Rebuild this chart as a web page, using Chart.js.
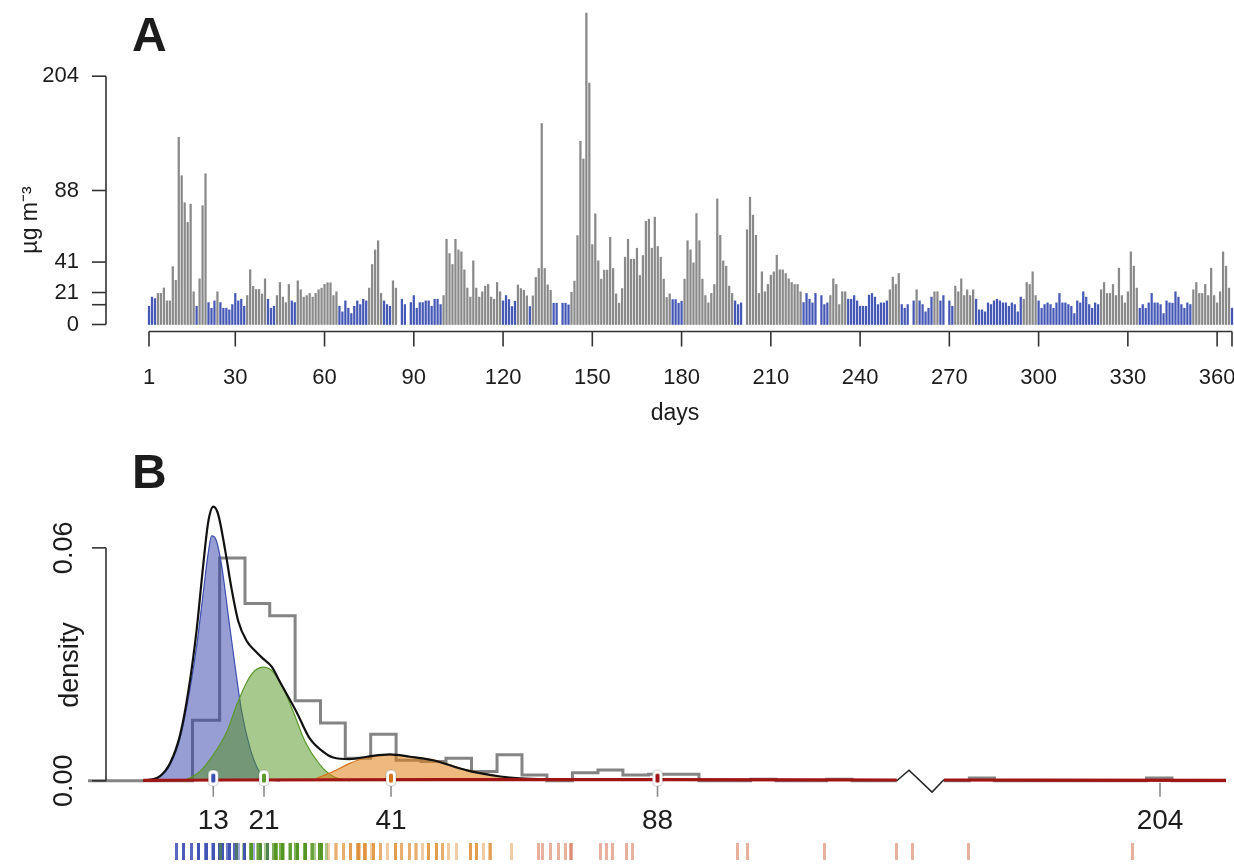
<!DOCTYPE html>
<html>
<head>
<meta charset="utf-8">
<title>Daily PM10 and mixture density</title>
<script src="https://cdn.jsdelivr.net/npm/chart.js@4.4.1/dist/chart.umd.min.js"></script>
<style>
  html, body { margin: 0; background: #fff; }
  #wrap { position: relative; width: 1234px; height: 864px; overflow: hidden; }
  canvas { position: absolute; left: 0; }
  #panelA { top: 0; }
  #panelB { top: 440px; }
</style>
</head>
<body>
<div id="wrap">
  <canvas id="panelA" width="1234" height="440"></canvas>
  <canvas id="panelB" width="1234" height="424"></canvas>
</div>
<script>
// ---- daily concentrations (µg m-3), day 1..365, null = no measurement
const pm = [
  12, 18, 17, 20.4, 20.4, 24, 15.5, 15.5, 38, 29,
  142, 103, 80, 67, 79, 21.5, 12, 30, 78, 105,
  14.4, 10.7, 15.5, 21.5, 14.4, 10.7, 10.7, 9.6, 13.1, 20.4,
  15.5, 16.6, 12, 19, 36, 25, 23, 23, 20, 30,
  16.6, 10.7, 12, 19, 27.6, 18, 14.4, 26.3, 15.5, 14.4,
  28.7, 22.8, 18, 19, 20.4, 18, 20.4, 22.8, 23.9, 26.3,
  27.4, 27.4, 19, 21.5, 12, 8.3, 15.5, 10.7, 7.2, 12,
  15.5, 13.1, 16.6, 15.5, 23.9, 39.4, 49, 55, 20.4, 15.5,
  13.1, 12, 28.7, 23.9, null, 16.6, 13.1, null, 14.4, 19,
  10.7, 14.4, 14.4, 15.5, 15.5, 12, 16.6, 16.6, 13.1, 19,
  56, 46.6, 39.4, 56, 49, 47.7, 35.9, 23.9, 18, 41.8,
  23.9, 18, 21.5, 25.2, 26.3, 18, 16.6, 27.6, 21.5, 15.5,
  19, 16.4, 11.8, 15.3, 26, 23.6, 22.5, 18.8, 11.8, 18.8,
  30.9, 36.8, 156, 36.8, 26, 22.5, 14, 14, null, 14,
  14, 12.9, 21.2, 28.5, 58.4, 138, 120, 320, 197, 52.5,
  72.7, 41.8, 29.8, 35.7, 35.7, 57.3, 36.8, 20.1, 14, 23.6,
  44.2, 56, 42.9, 42.9, 50.1, 32.2, 45.3, 67.8, 69.2, 50.1,
  70.5, 51.2, 44.2, 29.8, 17.7, 20.1, 16.4, 16.4, 14, 15.3,
  29.8, 55, 49, 40.5, 72.9, 55, 29.8, 19, 14.2, 20.4,
  26.3, 82.5, 58.6, 41.8, 38.3, 25.2, 20.4, 15.5, 13.1, 14.2,
  null, 62.2, 83.6, 71.8, 58.6, 20.4, 34.6, 21.5, 26.3, 32.4,
  34.6, 45.5, 35.9, 35.9, 33.5, 30, 27.6, 26.3, 26.3, 21.5,
  14.4, 20.4, 16.6, 14.2, 20.4, null, 19, 13.1, 14.2, 19,
  30, 26.3, 13.1, 21.5, 21.5, 16.6, 16.6, 19, 15.5, 12,
  12, 12, 19.3, 20.4, 18, 13.1, 14.2, 14.2, 15.5, 22.8,
  31.1, 26.3, 33.5, 13.1, 10.7, 13.1, null, 15.5, 22.8, 15.5,
  13.1, 8.3, 10.7, 18, 21.5, 21.5, 15.5, 19, null, 15.5,
  12, 25.2, 21.5, 30, 19, 22.8, 19, 22.8, 16.6, 9.6,
  9.6, 8.3, 14.2, 13.1, 15.5, 16.6, 15.5, 14.2, 14.2, 12,
  14.2, 13.1, 8.3, 18, 16.6, 27.6, 26.3, 34.6, 19, 15.5,
  10.7, 13.1, 14.2, 13.1, 10.7, 14.2, 20.4, 14.2, 14.2, 13.1,
  12, 7.2, 15.5, 14.2, 21.5, 18, 13.1, 10.7, 14.2, 13.1,
  22.8, 27.6, 20.4, 20.4, 26.3, 19, 37, 19, 14.2, 21.5,
  47.7, 38.3, 23.9, 10.7, 13.1, 10.7, 14.2, 20.4, 14.2, 14.2,
  13.1, 7.2, 15.5, 14.2, 14, 21.5, 18, 13.1, 10.7, 14.2,
  13.1, 22.8, 27.6, 20.4, 20.4, 26.3, 19, 37, 19, 14.2,
  21.5, 47.7, 38.3, 23.9, 10.7
];

// day assigned to the low (blue) component: 1 = yes, 0 = no, - = missing
const lowDays = (
  '1110000000 0000001000 1110111111 1110000000 1110000011 0000000000 ' +
  '0000111111 1111000001 1100-11-11 1111111110 0000000000 0000000001 ' +
  '1111000010 00000011-1 1100000000 0000000000 0000000000 0000001111 ' +
  '0000000000 0000000111 -000000000 0000000000 11111-1110 0000011111 ' +
  '1111111110 000111-101 11110011-1 1000000011 1111111111 1111000001 ' +
  '1111111111 1111111111 0000000000 0001111111 1111111111 1000000000 00001'
).replace(/ /g, '').split('');

const days = pm.map((_, i) => i + 1);

// axis ticks of panel A
const aTicksY = [0, 13, 21, 41, 88, 204];
const aTickLabelsY = ['0', '', '21', '41', '88', '204'];
const aTicksX = [1, 30, 60, 90, 120, 150, 180, 210, 240, 270, 300, 330, 360, 365];
const aTickLabelsX = ['1', '30', '60', '90', '120', '150', '180', '210', '240', '270', '300', '330', '360', ''];

// ---- panel B: histogram of the daily values (density per bin)
const histEdges = [9.7, 14.0, 18.0, 21.9, 25.9, 29.9, 33.8, 37.8, 41.9, 46.3, 50.7, 55.2, 59.7,
  64.1, 68.5, 73.0, 77.5, 81.9, 86.4, 91.1, 95.8, 105.5, 110.3, 120.4, 126.8, 138.0,
  149.8, 156.2, 162.5, 200.6, 206.9, 220];
const histDensity = [0.0156, 0.0574, 0.0457, 0.0425, 0.0206, 0.0149, 0.0058, 0.0120, 0.0053,
  0.0050, 0.0058, 0.0024, 0.0067, 0.0015, 0, 0.0021, 0.0028, 0.0015, 0.0017, 0.0017, 0,
  0.0004, 0, 0.0004, 0, null, 0, 0.0007, 0, 0.0007, 0];

// mixture components [value, density]
const blueCurve = [[1.9, 0], [4.55, 0.0011], [6.14, 0.0041], [7.72, 0.0109], [9.04, 0.0212],
  [10.37, 0.0348], [11.41, 0.0485], [12.2, 0.0587], [12.74, 0.0631], [13.43, 0.0621],
  [14.33, 0.0553], [15.37, 0.0425], [16.42, 0.0297], [17.48, 0.0178], [18.79, 0.0084],
  [20.1, 0.0028], [21.42, 0.0005], [23.5, 0]];
const greenCurve = [[8.77, 0.0003], [10.88, 0.0024], [13, 0.0067], [15.11, 0.0126],
  [16.69, 0.0195], [18.27, 0.0254], [19.58, 0.0284], [20.89, 0.0293], [22.21, 0.0284],
  [23.79, 0.0246], [25.61, 0.0178], [27.46, 0.0101], [29.82, 0.0041], [31.92, 0.0011],
  [34.54, 0]];
const orangeCurve = [[29.3, 0.0007], [31.9, 0.0024], [34.5, 0.0045], [37.2, 0.0060],
  [40.8, 0.0067], [44.35, 0.0062], [48.4, 0.0054], [54.4, 0.0028], [60.3, 0.0011],
  [63.7, 0.0005], [70.8, 0]];
const redCurve = [[1.9, 0.0001], [15, 0.0002], [50, 0.0003], [88, 0.0003], [138, 0.0002],
  [149.8, 0.0002], [220, 0.0001]];
const totalCurve = [[1.9, 0], [4.55, 0.0012], [6.14, 0.0045], [7.72, 0.0117], [9.04, 0.023],
  [10.37, 0.039], [11.41, 0.0557], [12.2, 0.0667], [13, 0.0706], [13.79, 0.0685],
  [14.85, 0.0596], [15.9, 0.0493], [16.94, 0.0411], [18.27, 0.036], [19.58, 0.0335],
  [20.89, 0.0314], [22.21, 0.0294], [23.5, 0.0255], [26.1, 0.0178], [28.2, 0.0109],
  [30.3, 0.0075], [31.9, 0.006], [34.5, 0.0056], [37.2, 0.0062], [40.8, 0.0068],
  [44.35, 0.0062], [48.4, 0.0053], [54.4, 0.0027], [60.3, 0.0011], [63.7, 0.0006],
  [70.8, 0.0003]];

const componentMeans = [13, 21, 41, 88];
const bTicksX = [13, 21, 41, 88, 204];
const bTicksY = [0, 0.06];
const bTickLabelsY = ['0.00', '0.06'];

// ---- look
const FONT = "'Liberation Sans', Arial, Helvetica, sans-serif";
const INK = '#1c1c1c';
const BAR_BLUE = 'rgb(70, 88, 182)';
const BAR_GRAY = 'rgb(138, 138, 138)';
const COMP_LINE = ['rgb(60, 78, 175)', 'rgb(92, 152, 44)', 'rgb(214, 116, 28)', 'rgb(160, 20, 20)'];
const COMP_FILL = ['rgba(48, 62, 168, 0.5)', 'rgba(82, 148, 28, 0.5)', 'rgba(222, 128, 22, 0.55)'];
const RUG = ['rgba(66, 84, 182, 0.5)', 'rgba(86, 150, 36, 0.5)', 'rgba(222, 140, 50, 0.45)', 'rgba(212, 112, 80, 0.55)'];

// piecewise-linear value axis: knots are [value, relative position]
const aKnots = [[0, 0], [88, 134], [204, 248.3], [320, 311.5]];
const bKnots = [[-6.86, 0], [13, 125.3], [21, 176], [41, 303], [88, 569.5], [118, 729],
  [204, 1072], [220, 1138]];
const breakLo = 138, breakHi = 149.8;

class KnotScale extends Chart.LinearScale {
  static id = 'knots';
  static defaults = { ticks: { callback: (v) => String(v) } };
  knotPos(v) {
    const k = this.options.knots;
    let i = 1;
    while (i < k.length - 1 && v > k[i][0]) i++;
    const [v0, p0] = k[i - 1], [v1, p1] = k[i];
    const p = p0 + (v - v0) * (p1 - p0) / (v1 - v0);
    return (p - k[0][1]) / (k[k.length - 1][1] - k[0][1]);
  }
  getPixelForValue(v) {
    return v === null || v === undefined ? NaN : this.getPixelForDecimal(this.knotPos(v));
  }
  getValueForPixel(px) {
    const k = this.options.knots;
    const t = this.getDecimalForPixel(px);
    const p = k[0][1] + t * (k[k.length - 1][1] - k[0][1]);
    let i = 1;
    while (i < k.length - 1 && p > k[i][1]) i++;
    const [v0, p0] = k[i - 1], [v1, p1] = k[i];
    return v0 + (p - p0) * (v1 - v0) / (p1 - p0);
  }
}
Chart.register(KnotScale);

function seg(ctx, x1, y1, x2, y2) {
  ctx.beginPath(); ctx.moveTo(x1, y1); ctx.lineTo(x2, y2); ctx.stroke();
}
function vText(ctx, text, x, y, size) {
  ctx.save();
  ctx.translate(x, y); ctx.rotate(-Math.PI / 2);
  ctx.font = size + 'px ' + FONT;
  ctx.textAlign = 'center'; ctx.textBaseline = 'middle';
  ctx.fillText(text, 0, 0);
  ctx.restore();
}

// R-style detached axes for the daily series
const axesA = {
  id: 'axesA',
  afterDraw(chart) {
    const { ctx, scales: { x, y } } = chart;
    ctx.save();
    ctx.strokeStyle = '#333'; ctx.lineWidth = 1.6; ctx.fillStyle = INK;
    const axisX = 106;
    seg(ctx, axisX, y.getPixelForValue(0), axisX, y.getPixelForValue(204));
    ctx.font = '22px ' + FONT; ctx.textAlign = 'right'; ctx.textBaseline = 'middle';
    aTicksY.forEach((v, i) => {
      const py = y.getPixelForValue(v);
      seg(ctx, axisX - 14, py, axisX, py);
      ctx.fillText(aTickLabelsY[i], axisX - 27, py);
    });
    const axisY = y.getPixelForValue(0) + 7;
    seg(ctx, x.getPixelForValue(1), axisY, x.getPixelForValue(365), axisY);
    ctx.textAlign = 'center';
    aTicksX.forEach((v, i) => {
      const px = x.getPixelForValue(v);
      seg(ctx, px, axisY, px, axisY + 15);
      ctx.fillText(aTickLabelsX[i], px, axisY + 46);
    });
    ctx.font = '23px ' + FONT;
    ctx.fillText('days', 675, 414);
    vText(ctx, 'µg m⁻³', 31, 220, 23);
    ctx.font = 'bold 48px ' + FONT; ctx.textAlign = 'left'; ctx.textBaseline = 'alphabetic';
    ctx.fillText('A', 132, 51);
    ctx.restore();
  }
};

// axes, break mark and labels for the density panel
const axesB = {
  id: 'axesB',
  beforeDatasetsDraw(chart) {
    const { ctx, scales: { x, y } } = chart;
    const y0 = y.getPixelForValue(0);
    ctx.save();
    ctx.strokeStyle = '#8a8a8a'; ctx.lineWidth = 1.6;
    bTicksX.forEach(v => {
      const px = x.getPixelForValue(v);
      seg(ctx, px, y0 + 2, px, y0 + 16);
    });
    ctx.restore();
  },
  afterDraw(chart) {
    const { ctx, scales: { x, y } } = chart;
    const y0 = y.getPixelForValue(0);
    ctx.save();
    ctx.strokeStyle = '#333'; ctx.lineWidth = 1.6; ctx.fillStyle = INK;
    const axisX = 106;
    seg(ctx, axisX, y0, axisX, y.getPixelForValue(0.06));
    bTicksY.forEach((v, i) => {
      const py = y.getPixelForValue(v);
      seg(ctx, axisX - 14, py, axisX, py);
      vText(ctx, bTickLabelsY[i], 65, py, 27);
    });
    vText(ctx, 'density', 71, 225, 27);
    ctx.font = '28px ' + FONT; ctx.textAlign = 'center'; ctx.textBaseline = 'middle';
    bTicksX.forEach(v => ctx.fillText(String(v), x.getPixelForValue(v), y0 + 40));
    // axis break
    const x1 = x.getPixelForValue(breakLo), x2 = x.getPixelForValue(breakHi), w = x2 - x1;
    ctx.strokeStyle = '#222'; ctx.lineWidth = 1.5;
    ctx.beginPath();
    ctx.moveTo(x1, y0);
    ctx.lineTo(x1 + 0.26 * w, y0 - 10.5);
    ctx.lineTo(x1 + 0.75 * w, y0 + 11.3);
    ctx.lineTo(x2, y0 - 1);
    ctx.stroke();
    ctx.font = 'bold 48px ' + FONT; ctx.textAlign = 'left'; ctx.textBaseline = 'alphabetic';
    ctx.fillText('B', 132, 48);
    ctx.restore();
  }
};

// ---- panel A: daily bars
new Chart(document.getElementById('panelA'), {
  type: 'bar',
  data: {
    datasets: [{
      data: days.map((d, i) => ({ x: d, y: pm[i] })),
      backgroundColor: days.map((d, i) => lowDays[i] === '1' ? BAR_BLUE : BAR_GRAY),
      barThickness: 1.6,
      clip: false
    }]
  },
  options: {
    responsive: false,
    animation: false,
    layout: { padding: { left: 149, right: 2, top: 13, bottom: 115.5 } },
    plugins: { legend: { display: false }, tooltip: { enabled: false } },
    scales: {
      x: { type: 'linear', min: 1, max: 365, offset: false, display: false },
      y: { type: 'knots', knots: aKnots, min: 0, max: 320, display: false }
    }
  },
  plugins: [axesA]
});

// ---- panel B: histogram, mixture components and rug
const histPoints = [{ x: bKnots[0][0], y: 0 }];
histDensity.forEach((h, i) => {
  if (h === null) {
    histPoints.push({ x: histEdges[i], y: histDensity[i - 1] }, { x: histEdges[i], y: null });
  } else {
    histPoints.push({ x: histEdges[i], y: h });
  }
});
histPoints.push({ x: histEdges[histEdges.length - 1], y: 0 });

function curvePoints(curve) {
  const out = [];
  curve.forEach(([x, y], i) => {
    if (i > 0 && curve[i - 1][0] <= breakLo && x >= breakHi) out.push({ x: (breakLo + breakHi) / 2, y: null });
    out.push({ x, y });
  });
  return out;
}

// small white pill with a coloured core, used for the component means
function pill(color) {
  const c = document.createElement('canvas');
  c.width = 12; c.height = 18;
  const g = c.getContext('2d');
  g.fillStyle = '#fff'; g.strokeStyle = 'rgba(0,0,0,0.18)'; g.lineWidth = 1;
  g.beginPath(); g.roundRect(1, 1, 10, 16, 4); g.fill(); g.stroke();
  g.fillStyle = color;
  g.beginPath(); g.roundRect(4, 4.5, 4, 9, 1.5); g.fill();
  return c;
}
// one rug tick per observation
function rugTick(color) {
  const c = document.createElement('canvas');
  c.width = 3; c.height = 24;
  const g = c.getContext('2d');
  g.fillStyle = color; g.fillRect(0, 0, 3, 24);
  return c;
}
const rugTicks = RUG.map(rugTick);
const rugGroup = (v, i) => lowDays[i] === '1' ? 0 : v < 31 ? 1 : v < 63 ? 2 : 3;
const rugIdx = pm.map((v, i) => i).filter(i => pm[i] !== null);
const rugLevel = -0.0192, markerLevel = 0.0007;

const noPoint = { pointRadius: 0, pointHoverRadius: 0 };

new Chart(document.getElementById('panelB'), {
  type: 'line',
  data: {
    datasets: [
      { data: histPoints, stepped: 'before', borderColor: 'rgba(110, 110, 110, 0.85)', borderWidth: 3,
        fill: false, spanGaps: false, order: 7, ...noPoint },
      { data: curvePoints(blueCurve), borderColor: COMP_LINE[0], backgroundColor: COMP_FILL[0],
        borderWidth: 1.2, fill: 'origin', cubicInterpolationMode: 'monotone', order: 6, ...noPoint },
      { data: curvePoints(greenCurve), borderColor: COMP_LINE[1], backgroundColor: COMP_FILL[1],
        borderWidth: 1.2, fill: 'origin', cubicInterpolationMode: 'monotone', order: 5, ...noPoint },
      { data: curvePoints(orangeCurve), borderColor: COMP_LINE[2], backgroundColor: COMP_FILL[2],
        borderWidth: 1.2, fill: 'origin', cubicInterpolationMode: 'monotone', order: 4, ...noPoint },
      { data: curvePoints(totalCurve), borderColor: '#111', borderWidth: 2.2, fill: false,
        cubicInterpolationMode: 'monotone', order: 3, ...noPoint },
      { data: curvePoints(redCurve), borderColor: COMP_LINE[3], borderWidth: 3.2, fill: false,
        spanGaps: false, cubicInterpolationMode: 'monotone', order: 2, ...noPoint },
      { data: componentMeans.map(m => ({ x: m, y: markerLevel })), showLine: false,
        pointStyle: COMP_LINE.map(pill), pointRadius: 1, pointBorderWidth: 0, order: 1 },
      { data: rugIdx.map(i => ({ x: pm[i], y: rugLevel })), showLine: false,
        pointStyle: rugIdx.map(i => rugTicks[rugGroup(pm[i], i)]), pointRadius: 1,
        pointBorderWidth: 0, order: 0 }
    ]
  },
  options: {
    responsive: false,
    animation: false,
    layout: { padding: { left: 88, right: 8, top: 40, bottom: 0 } },
    plugins: { legend: { display: false }, tooltip: { enabled: false } },
    scales: {
      x: { type: 'knots', knots: bKnots, min: -6.86, max: 220, display: false },
      // bottom edge sits 1.6 px up (half the widest line), so the range starts there
      y: { type: 'linear', min: -0.0204, max: 0.07748, display: false }
    }
  },
  plugins: [axesB]
});
</script>
</body>
</html>
